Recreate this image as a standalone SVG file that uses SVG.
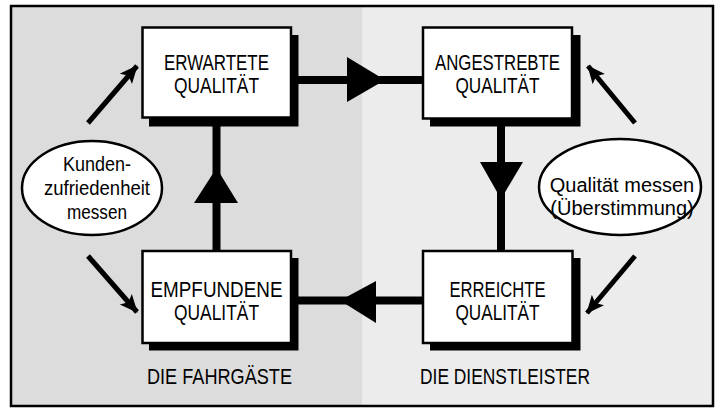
<svg xmlns="http://www.w3.org/2000/svg" width="721" height="408" viewBox="0 0 721 408">
<defs>
<style>
.box{fill:#fff;stroke:#000;stroke-width:2.5}
.shadow{fill:#000}
.bt{font-family:"Liberation Sans",Arial,sans-serif;font-size:22px;fill:#000;text-anchor:middle}
.et{font-family:"Liberation Sans",Arial,sans-serif;font-size:20px;fill:#000;text-anchor:middle}
.ell{fill:#fff;stroke:#000;stroke-width:2.5}
.thick{stroke:#000;stroke-width:8;fill:none}
.thin{stroke:#000;stroke-width:5;fill:none;marker-end:url(#ah)}
</style>
<marker id="ah" markerUnits="userSpaceOnUse" markerWidth="20" markerHeight="18" refX="17" refY="8" orient="auto" viewBox="0 0 20 16">
<path d="M0,0 L18,8 L0,16 L4,8 Z" fill="#000"/>
</marker>
</defs>
<rect x="0" y="0" width="721" height="408" fill="#fff"/>
<rect x="11" y="6" width="351" height="400" fill="#dcdcdc"/>
<rect x="362" y="6" width="351" height="400" fill="#ececec"/>
<rect x="11" y="6" width="702" height="400" fill="none" stroke="#000" stroke-width="2.5"/>

<g id="connectors">
<line class="thick" x1="291" y1="80" x2="423" y2="80"/>
<polygon points="347,57 385,80 347,102" fill="#000"/>
<line class="thick" x1="501" y1="119" x2="501" y2="251"/>
<polygon points="480,162 523,162 501,199" fill="#000"/>
<line class="thick" x1="291" y1="300.5" x2="423" y2="300.5"/>
<polygon points="376,281 340,300.5 376,323" fill="#000"/>
<line class="thick" x1="216.5" y1="117" x2="216.5" y2="251"/>
<polygon points="194,203 216.5,168 238,203" fill="#000"/>
<line class="thin" x1="88" y1="123" x2="137" y2="66"/>
<line class="thin" x1="88" y1="256" x2="137" y2="312"/>
<line class="thin" x1="635" y1="123" x2="588" y2="66"/>
<line class="thin" x1="635" y1="256" x2="587" y2="313"/>
</g>

<g id="erwartete">
<rect class="shadow" x="149" y="35" width="149.5" height="91.5"/>
<rect class="box" x="142.5" y="27.5" width="148.5" height="90"/>
<text class="bt" x="216.5" y="70" textLength="105" lengthAdjust="spacingAndGlyphs">ERWARTETE</text>
<text class="bt" x="216.5" y="93" textLength="85" lengthAdjust="spacingAndGlyphs">QUALITÄT</text>
</g>

<g id="angestrebte">
<rect class="shadow" x="430" y="35" width="150.5" height="91.5"/>
<rect class="box" x="423" y="27.5" width="149" height="91"/>
<text class="bt" x="497.5" y="70" textLength="125" lengthAdjust="spacingAndGlyphs">ANGESTREBTE</text>
<text class="bt" x="497.5" y="93" textLength="84" lengthAdjust="spacingAndGlyphs">QUALITÄT</text>
</g>

<g id="empfundene">
<rect class="shadow" x="149" y="258" width="149.5" height="92.5"/>
<rect class="box" x="142.5" y="251" width="148.5" height="92"/>
<text class="bt" x="216.5" y="297" textLength="132" lengthAdjust="spacingAndGlyphs">EMPFUNDENE</text>
<text class="bt" x="216.5" y="320" textLength="85" lengthAdjust="spacingAndGlyphs">QUALITÄT</text>
</g>

<g id="erreichte">
<rect class="shadow" x="430" y="258" width="150.5" height="92.5"/>
<rect class="box" x="423" y="251" width="149.5" height="92"/>
<text class="bt" x="497.5" y="297" textLength="96" lengthAdjust="spacingAndGlyphs">ERREICHTE</text>
<text class="bt" x="497.5" y="320" textLength="84" lengthAdjust="spacingAndGlyphs">QUALITÄT</text>
</g>

<g id="kundenzufriedenheit">
<ellipse class="ell" cx="92" cy="188" rx="70" ry="47"/>
<text class="et" x="97" y="171" textLength="68" lengthAdjust="spacingAndGlyphs">Kunden-</text>
<text class="et" x="97" y="195" textLength="106" lengthAdjust="spacingAndGlyphs">zufriedenheit</text>
<text class="et" x="97" y="219" textLength="60" lengthAdjust="spacingAndGlyphs">messen</text>
</g>

<g id="qualitaet-messen">
<ellipse class="ell" cx="620" cy="187" rx="81" ry="48"/>
<text class="et" x="622" y="192">Qualität messen</text>
<text class="et" x="622" y="215">(Überstimmung)</text>
</g>

<g id="labels">
<text class="bt" x="219.5" y="384" textLength="145" lengthAdjust="spacingAndGlyphs">DIE FAHRGÄSTE</text>
<text class="bt" x="505" y="384" textLength="170" lengthAdjust="spacingAndGlyphs">DIE DIENSTLEISTER</text>
</g>
</svg>
